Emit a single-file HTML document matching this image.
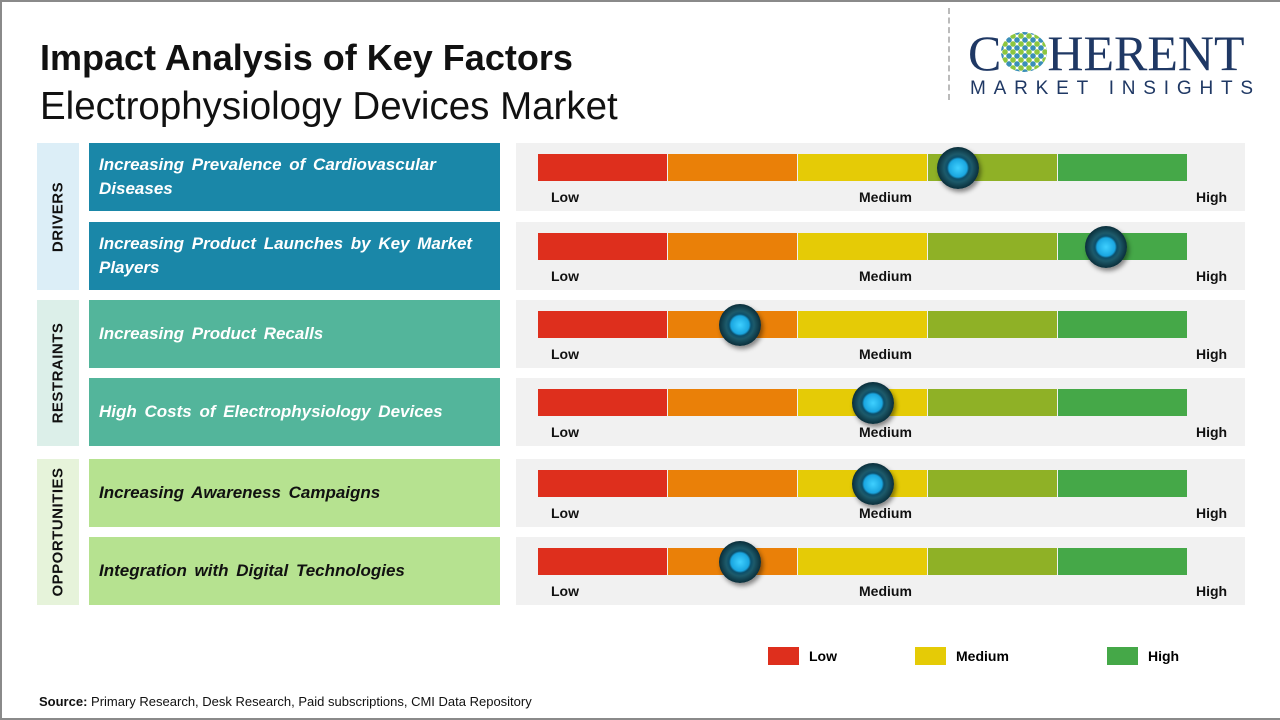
<!DOCTYPE html>
<html><head><meta charset="utf-8"><style>
*{margin:0;padding:0;box-sizing:border-box}
body{width:1280px;height:720px;background:#fff;position:relative;overflow:hidden;font-family:"Liberation Sans",sans-serif}
.a{position:absolute}
.frame{left:0;top:0;width:1280px;height:720px;border:2px solid #8a8a8a;border-right:none;border-bottom-width:2px}
.cat{background:#dceef7;width:42px;left:37px}
.cat span{position:absolute;left:50%;top:50%;transform:translate(-50%,-50%) rotate(-90deg);font-weight:bold;font-size:15px;color:#111;white-space:nowrap;letter-spacing:.5px}
.box{left:89px;width:411px;height:68px;font-weight:bold;font-style:italic;font-size:17px;color:#fff;padding:0 10px;display:flex;align-items:center;line-height:24px;word-spacing:3px}
.panel{left:516px;width:729px;height:68px;background:#f1f1f1}
.seg{height:27px;top:11px}
.lbl{font-weight:bold;font-size:14px;color:#111;top:46px}
.knob{width:42px;height:42px;border-radius:50%;background:radial-gradient(circle at 50% 50%,#3fd0ff 0,#1aa6e0 9px,#0c4f6a 11px,#1d5a6a 14px,#0a2e3a 21px);box-shadow:2px 3px 5px rgba(0,0,0,.45)}
.dots{display:inline-block;width:46px;height:40px;vertical-align:-2px;background:radial-gradient(circle,#8cc63f 0 2.5px,transparent 3px) 0 0/8px 8px,radial-gradient(circle,#3a8fb7 0 2.5px,transparent 3px) 4px 4px/8px 8px;border-radius:50%}
</style></head><body>
<div class="a" style="left:40px;top:37px;font-size:36px;font-weight:bold;color:#111">Impact Analysis of Key Factors</div>
<div class="a" style="left:40px;top:85px;font-size:38.5px;color:#111">Electrophysiology Devices Market</div>
<div class="a" style="left:948px;top:8px;height:92px;border-left:2px dashed #bbb"></div>
<div class="a" style="left:968px;top:28px;font-family:'Liberation Serif',serif;font-size:50px;color:#1f3864;line-height:50px">C<span class="dots"></span>HERENT</div>
<div class="a" style="left:970px;top:78px;font-size:19px;color:#1f3864;letter-spacing:7.8px">MARKET INSIGHTS</div>

<div class="a cat" style="top:143px;height:147px"><span>DRIVERS</span></div>
<div class="a cat" style="top:300px;height:146px;background:#dcefe9"><span>RESTRAINTS</span></div>
<div class="a cat" style="top:459px;height:146px;background:#e6f3da"><span>OPPORTUNITIES</span></div>

<div class="a box" style="top:143px;background:#1a87a8">Increasing Prevalence of Cardiovascular Diseases</div>
<div class="a box" style="top:222px;background:#1a87a8">Increasing Product Launches by Key Market Players</div>
<div class="a box" style="top:300px;background:#53b59b">Increasing Product Recalls</div>
<div class="a box" style="top:378px;background:#53b59b">High Costs of Electrophysiology Devices</div>
<div class="a box" style="top:459px;background:#b6e290;color:#111">Increasing Awareness Campaigns</div>
<div class="a box" style="top:537px;background:#b6e290;color:#111">Integration with Digital Technologies</div>

<div id="rows"></div>
<script>
var tops=[143,222,300,378,459,537],kx=[958,1106,740,873,873,740];
var cols=['#de2f1d','#ea8008','#e5cb06','#8fb126','#45a848'],h='';
tops.forEach(function(t,i){
h+='<div class="a panel" style="top:'+t+'px">';
for(var j=0;j<5;j++)h+='<div class="a seg" style="left:'+(22+j*130)+'px;width:129px;background:'+cols[j]+'"></div>';
h+='<div class="a lbl" style="left:35px">Low</div><div class="a lbl" style="left:343px">Medium</div><div class="a lbl" style="left:680px">High</div></div>';
h+='<div class="a knob" style="left:'+(kx[i]-21)+'px;top:'+(t+4)+'px"></div>';
});
document.getElementById('rows').innerHTML=h;
</script>

<div class="a" style="left:768px;top:647px;width:31px;height:18px;background:#de2f1d"></div>
<div class="a" style="left:809px;top:648px;font-size:14px;font-weight:bold">Low</div>
<div class="a" style="left:915px;top:647px;width:31px;height:18px;background:#e5cb06"></div>
<div class="a" style="left:956px;top:648px;font-size:14px;font-weight:bold">Medium</div>
<div class="a" style="left:1107px;top:647px;width:31px;height:18px;background:#45a848"></div>
<div class="a" style="left:1148px;top:648px;font-size:14px;font-weight:bold">High</div>

<div class="a" style="left:39px;top:694px;font-size:13px;color:#111"><b>Source:</b> Primary Research, Desk Research, Paid subscriptions, CMI Data Repository</div>
<div class="a frame"></div>
</body></html>
